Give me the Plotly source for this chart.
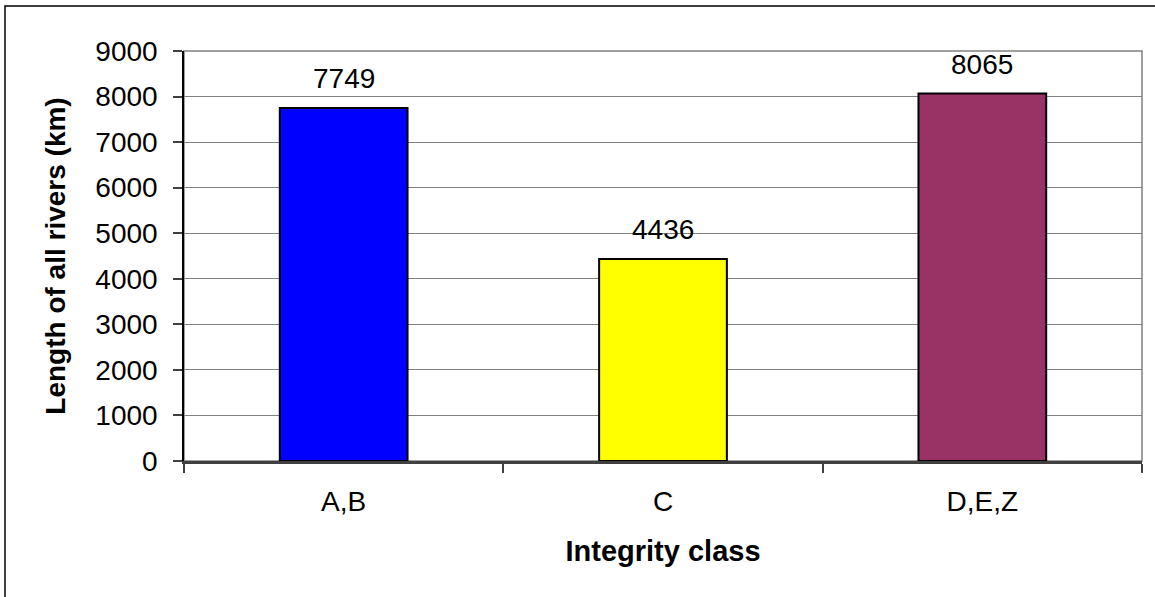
import plotly.graph_objects as go

# data
classes = ["A,B", "C", "D,E,Z"]
lengths_km = [7749, 4436, 8065]
bar_colors = ["#0000FF", "#FFFF00", "#993366"]
y_ticks = [0, 1000, 2000, 3000, 4000, 5000, 6000, 7000, 8000, 9000]

FONT = "Liberation Sans, Arial, sans-serif"

fig = go.Figure(
    go.Bar(
        x=classes,
        y=lengths_km,
        marker=dict(color=bar_colors, line=dict(color="black", width=2)),
        hovertemplate="<b>%{x}</b><br>%{y} km<extra></extra>",
    )
)

# value labels above each bar
for c, v in zip(classes, lengths_km):
    fig.add_annotation(
        x=c, y=v, text=str(v), showarrow=False,
        yanchor="bottom", yshift=12,
        font=dict(family=FONT, size=28, color="black"),
    )

# plot area frame (grey) and outer chart border (black, runs off the right/bottom edge)
fig.add_shape(type="rect", xref="paper", yref="paper", x0=0, x1=1, y0=0, y1=1,
              line=dict(color="#808080", width=1.5), layer="below")
fig.add_shape(type="rect", xref="paper", yref="paper",
              x0=(5 - 184) / 958, x1=(1165 - 184) / 958,
              y0=(461 - 610) / 410, y1=(461 - 6) / 410,
              line=dict(color="black", width=1.5))

fig.update_layout(
    width=1155,
    height=597,
    paper_bgcolor="white",
    plot_bgcolor="white",
    font=dict(family=FONT, color="black", size=28),
    margin=dict(l=184, r=13, t=51, b=136),
    bargap=0.6,
    showlegend=False,
    xaxis=dict(
        type="category",
        tickson="boundaries",
        ticks="outside",
        ticklen=9,
        tickcolor="#404040",
        tickwidth=1.5,
        showgrid=False,
        showline=True,
        linecolor="#404040",
        linewidth=2.5,
        ticklabelstandoff=14,
        tickfont=dict(size=28),
        title=dict(text="<b>Integrity class</b>", font=dict(size=29), standoff=25),
    ),
    yaxis=dict(
        range=[0, 9000],
        tickvals=y_ticks,
        ticks="outside",
        ticklen=9,
        tickcolor="#404040",
        tickwidth=1.5,
        showgrid=True,
        gridcolor="#808080",
        gridwidth=1.2,
        zeroline=False,
        showline=True,
        linecolor="black",
        linewidth=1.5,
        ticklabelstandoff=10,
        tickfont=dict(size=28),
        title=dict(text="<b>Length of all rivers (km)</b>", font=dict(size=28), standoff=22),
    ),
)

# drop the default page margin so the figure sits at the window's corner
fig.write_html(
    "out.html",
    config={"displayModeBar": False},
    post_script="document.body.style.margin='0';",
)
